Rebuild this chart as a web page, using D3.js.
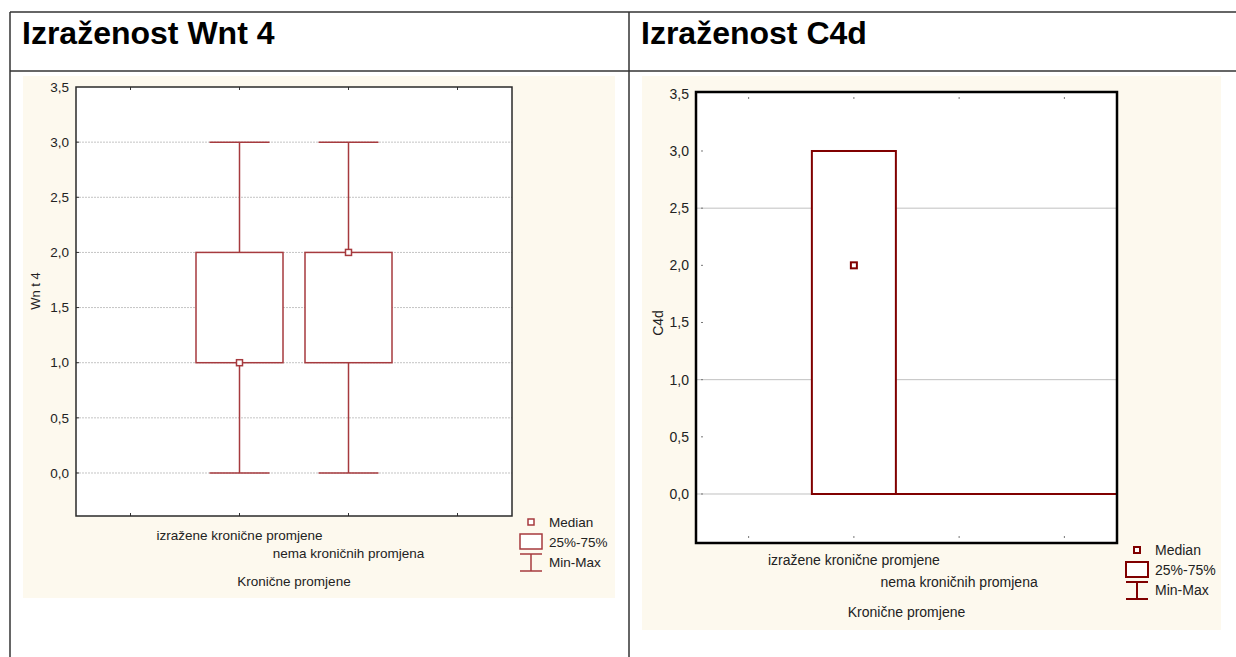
<!DOCTYPE html>
<html>
<head>
<meta charset="utf-8">
<script src="https://d3js.org/d3.v7.min.js"></script>
<style>
 body { margin: 0; background: #fff; }
 svg text { font-family: "Liberation Sans", Arial, sans-serif; }
</style>
</head>
<body>
<svg id="chart" width="1236" height="657"></svg>
<script>
 // categories and box-plot statistics
 var categories = ["izražene kronične promjene", "nema kroničnih promjena"];
 var slots = ["_a", categories[0], categories[1], "_b"];

 var wntMin = [0, 0];
 var wntQ1  = [1, 1];
 var wntMed = [1, 2];
 var wntQ3  = [2, 2];
 var wntMax = [3, 3];

 var c4dMin = [0, 0];
 var c4dQ1  = [0, 0];
 var c4dMed = [2, null];
 var c4dQ3  = [3, 0];
 var c4dMax = [3, 0];

 var yTicks = [0, 0.5, 1, 1.5, 2, 2.5, 3, 3.5];
 var fmt = function(v) { return d3.format(".1f")(v).replace(".", ","); };

 var svg = d3.select("#chart");

 // table frame
 var frame = svg.append("g").attr("stroke", "#333").attr("stroke-width", 1.5);
 frame.append("line").attr("x1", 10).attr("y1", 12).attr("x2", 1236).attr("y2", 12);
 frame.append("line").attr("x1", 10).attr("y1", 71).attr("x2", 1236).attr("y2", 71);
 frame.append("line").attr("x1", 10).attr("y1", 12).attr("x2", 10).attr("y2", 657);
 frame.append("line").attr("x1", 629).attr("y1", 12).attr("x2", 629).attr("y2", 657);

 svg.append("text").attr("x", 22).attr("y", 44).attr("font-size", "32px")
    .attr("font-weight", "bold").attr("fill", "#000").text("Izraženost Wnt 4");
 svg.append("text").attr("x", 641).attr("y", 44).attr("font-size", "32px")
    .attr("font-weight", "bold").attr("fill", "#000").text("Izraženost C4d");

 function panel(p) {
     var g = svg.append("g");
     g.append("rect").attr("x", p.bg[0]).attr("y", p.bg[1])
      .attr("width", p.bg[2]).attr("height", p.bg[3]).attr("fill", "#fdf9ee");

     var x = d3.scalePoint().domain(slots).range([p.left, p.right]).padding(0.5);
     var y = d3.scaleLinear().domain(p.ydom).range([p.bottom, p.top]);

     g.append("rect").attr("x", p.left).attr("y", p.top)
      .attr("width", p.right - p.left).attr("height", p.bottom - p.top).attr("fill", "#fff");

     // grid
     g.selectAll(".grid").data(p.grid).enter().append("line")
      .attr("x1", p.left).attr("x2", p.right)
      .attr("y1", function(d) { return y(d); }).attr("y2", function(d) { return y(d); })
      .attr("stroke", p.gridColor).attr("stroke-width", 1)
      .attr("stroke-dasharray", p.gridDash);

     // y ticks and labels
     g.selectAll(".yt").data(yTicks.slice(0, -1)).enter().append("line")
      .attr("x1", p.left + p.tickOff).attr("x2", p.left + p.tickOff + p.tickLen)
      .attr("y1", function(d) { return y(d); }).attr("y2", function(d) { return y(d); })
      .attr("stroke", p.tickColor).attr("stroke-width", 1);
     g.selectAll(".yl").data(yTicks).enter().append("text")
      .attr("x", p.left - 7).attr("y", function(d) { return y(d); })
      .attr("dy", "0.35em").attr("text-anchor", "end")
      .attr("font-size", p.fs).attr("fill", "#222").text(fmt);

     // x ticks top and bottom
     g.selectAll(".xt").data(slots).enter().append("line")
      .attr("x1", function(d) { return x(d); }).attr("x2", function(d) { return x(d); })
      .attr("y1", p.top + p.tickOff).attr("y2", p.top + p.tickOff + p.tickLen)
      .attr("stroke", p.tickColor).attr("stroke-width", 1);
     g.selectAll(".xb").data(slots).enter().append("line")
      .attr("x1", function(d) { return x(d); }).attr("x2", function(d) { return x(d); })
      .attr("y1", p.bottom - p.tickOff).attr("y2", p.bottom - p.tickOff - p.tickLen)
      .attr("stroke", p.tickColor).attr("stroke-width", 1);

     var s = p.stats;
     var c = p.color, sw = p.sw;
     categories.forEach(function(cat, i) {
         var cx = x(cat);
         if (s.q3[i] > s.q1[i]) {
             // whiskers
             g.append("line").attr("x1", cx).attr("x2", cx)
              .attr("y1", y(s.max[i])).attr("y2", y(s.q3[i])).attr("stroke", c).attr("stroke-width", sw);
             g.append("line").attr("x1", cx).attr("x2", cx)
              .attr("y1", y(s.q1[i])).attr("y2", y(s.min[i])).attr("stroke", c).attr("stroke-width", sw);
             if (s.max[i] > s.q3[i])
                 g.append("line").attr("x1", cx - p.cap).attr("x2", cx + p.cap)
                  .attr("y1", y(s.max[i])).attr("y2", y(s.max[i])).attr("stroke", c).attr("stroke-width", sw);
             if (s.min[i] < s.q1[i])
                 g.append("line").attr("x1", cx - p.cap).attr("x2", cx + p.cap)
                  .attr("y1", y(s.min[i])).attr("y2", y(s.min[i])).attr("stroke", c).attr("stroke-width", sw);
             g.append("rect").attr("x", cx - p.half).attr("y", y(s.q3[i]))
              .attr("width", p.half * 2).attr("height", y(s.q1[i]) - y(s.q3[i]))
              .attr("fill", "#fff").attr("stroke", c).attr("stroke-width", sw);
         } else {
             // collapsed group: drawn as a line at its value up to the plot edge
             g.append("line").attr("x1", x(categories[i - 1]) + p.half).attr("x2", p.right)
              .attr("y1", y(s.q1[i])).attr("y2", y(s.q1[i])).attr("stroke", c).attr("stroke-width", sw);
         }
         if (s.med[i] !== null)
             g.append("rect").attr("x", cx - p.mk / 2).attr("y", y(s.med[i]) - p.mk / 2)
              .attr("width", p.mk).attr("height", p.mk)
              .attr("fill", "#fff").attr("stroke", c).attr("stroke-width", sw);
     });

     // plot frame
     g.append("rect").attr("x", p.left).attr("y", p.top)
      .attr("width", p.right - p.left).attr("height", p.bottom - p.top)
      .attr("fill", "none").attr("stroke", p.frameColor).attr("stroke-width", p.frameW);

     // axis titles and category labels
     g.append("text").attr("transform", "translate(" + p.ytx + "," + p.yty + ") rotate(-90)")
      .attr("text-anchor", "middle").attr("dy", "0.35em").attr("font-size", p.yfs)
      .attr("fill", "#222").text(p.ytitle);
     categories.forEach(function(cat, i) {
         g.append("text").attr("x", x(cat)).attr("y", p.catY[i]).attr("dy", "0.35em")
          .attr("text-anchor", "middle").attr("font-size", p.fs).attr("fill", "#222").text(cat);
     });
     g.append("text").attr("x", (p.left + p.right) / 2).attr("y", p.xtY).attr("dy", "0.35em")
      .attr("text-anchor", "middle").attr("font-size", p.fs).attr("fill", "#222").text("Kronične promjene");

     // legend
     var L = p.legend, lx = L[0], ly = L[1];
     g.append("rect").attr("x", lx - p.mk / 2).attr("y", ly - p.mk / 2).attr("width", p.mk).attr("height", p.mk)
      .attr("fill", "#fff").attr("stroke", c).attr("stroke-width", sw);
     g.append("rect").attr("x", lx - 11).attr("y", ly + 12).attr("width", 22).attr("height", 15)
      .attr("fill", "#fff").attr("stroke", c).attr("stroke-width", sw);
     g.append("line").attr("x1", lx - 11).attr("x2", lx + 11).attr("y1", ly + 32).attr("y2", ly + 32)
      .attr("stroke", c).attr("stroke-width", sw);
     g.append("line").attr("x1", lx - 11).attr("x2", lx + 11).attr("y1", ly + 49).attr("y2", ly + 49)
      .attr("stroke", c).attr("stroke-width", sw);
     g.append("line").attr("x1", lx).attr("x2", lx).attr("y1", ly + 32).attr("y2", ly + 49)
      .attr("stroke", c).attr("stroke-width", sw);
     [["Median", 0], ["25%-75%", 20], ["Min-Max", 40]].forEach(function(t) {
         g.append("text").attr("x", lx + 18).attr("y", ly + t[1]).attr("dy", "0.35em")
          .attr("font-size", p.fs).attr("fill", "#222").text(t[0]);
     });
 }

 panel({
     bg: [23, 76, 592, 522],
     left: 76, right: 512, top: 87, bottom: 516,
     ydom: [-0.39, 3.5],
     grid: [0, 0.5, 1, 1.5, 2, 2.5, 3],
     gridColor: "#c4c4c4", gridDash: "2,1",
     tickOff: 0, tickLen: 3, tickColor: "#333",
     fs: "13.5px", yfs: "13px",
     stats: { min: wntMin, q1: wntQ1, med: wntMed, q3: wntQ3, max: wntMax },
     color: "#a63a3e", sw: 1.5, half: 43.5, cap: 30, mk: 6,
     frameColor: "#2a2a2a", frameW: 1.5,
     ytitle: "Wn t 4", ytx: 35, yty: 291,
     catY: [535, 553], xtY: 581,
     legend: [531, 522]
 });

 panel({
     bg: [642, 76, 579, 554],
     left: 696, right: 1117, top: 92, bottom: 543,
     ydom: [-0.4286, 3.516],
     grid: [0, 1, 2.5],
     gridColor: "#c0c0c0", gridDash: null,
     tickOff: 5, tickLen: 2, tickColor: "#777",
     fs: "14px", yfs: "14px",
     stats: { min: c4dMin, q1: c4dQ1, med: c4dMed, q3: c4dQ3, max: c4dMax },
     color: "#800000", sw: 2, half: 42, cap: 30, mk: 6,
     frameColor: "#000", frameW: 2.5,
     ytitle: "C4d", ytx: 658, yty: 323,
     catY: [560, 582], xtY: 612,
     legend: [1137, 550]
 });
</script>
</body>
</html>
